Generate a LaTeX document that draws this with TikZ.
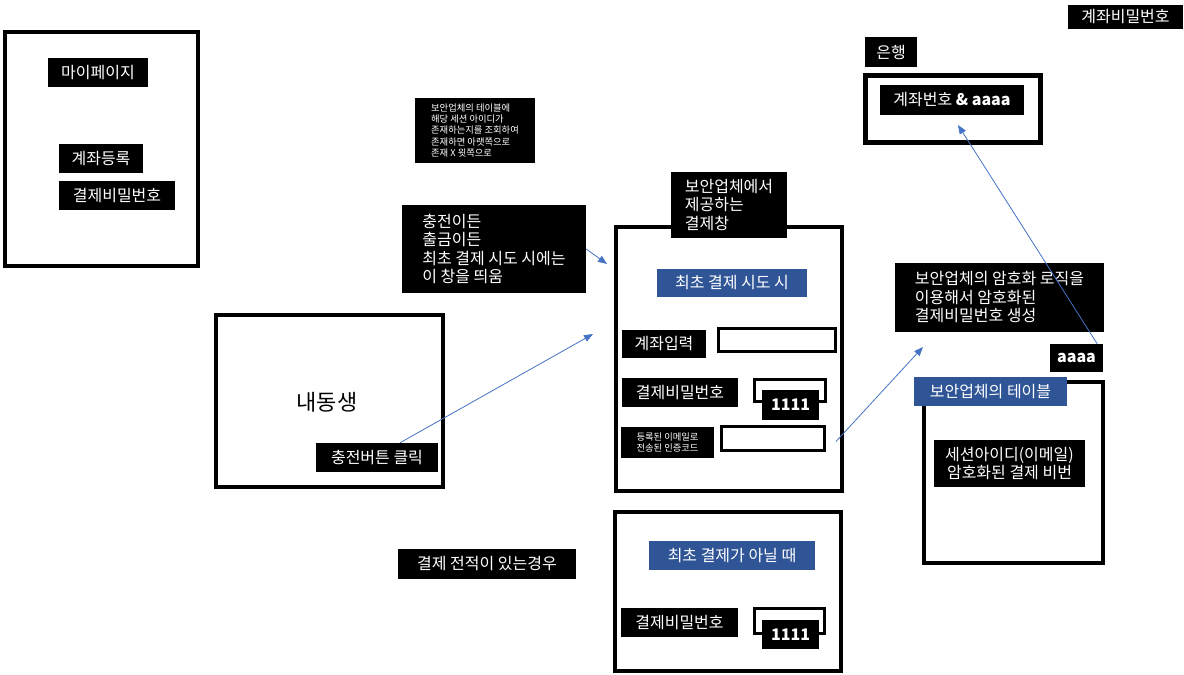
\documentclass[tikz,border=0pt]{standalone}
\usepackage{fontspec}
\setmainfont{Noto Sans CJK KR}
\usetikzlibrary{arrows.meta,positioning}
\definecolor{linkblue}{RGB}{68,114,196}
\definecolor{tagblue}{RGB}{47,85,151}
\tikzset{
  tag/.style={fill=black, text=white, font=\fontsize{16}{18.5}\selectfont,
    inner xsep=0pt, inner ysep=0pt, minimum height=29pt, align=left},
  boldtag/.style={tag, font=\fontsize{16}{18.5}\selectfont\bfseries},
  bluetag/.style={tag, fill=tagblue},
  smalltag/.style={tag, font=\fontsize{9.3}{11.4}\selectfont},
  frame/.style={draw=black, line width=4pt, inner sep=0pt},
  field/.style={draw=black, fill=white, line width=3pt, inner sep=0pt},
  link/.style={draw=linkblue, line width=0.8pt, -{Triangle[length=9pt,width=7pt]}}
}
\begin{document}
\begin{tikzpicture}[x=1pt, y=-1pt]
    \useasboundingbox (0,0) rectangle (1184,675);

    % Frames
    \node[frame, minimum width=193, minimum height=234] (mypageframe) at (101.5,149) {};
    \node[frame, minimum width=227, minimum height=172] (sibframe) at (329.5,401) {};
    \node[frame, minimum width=226, minimum height=264] (payframe) at (729,359) {};
    \node[frame, minimum width=226, minimum height=159] (againframe) at (728,591.5) {};
    \node[frame, line width=5pt, minimum width=175, minimum height=67] (bankframe) at (953,109) {};
    \node[frame, minimum width=179, minimum height=181] (tableframe) at (1013.5,472.5) {};

    % My page
    \node[tag, minimum width=100] (mypage) at (98,72.5) {마이페이지};
    \node[tag, minimum width=84] (regacct) at (101,158.5) {계좌등록};
    \node[tag, minimum width=116] (mypw) at (117,195.5) {결제비밀번호};

    % Notes in the middle
    \node[smalltag, minimum width=120, minimum height=65] (tablenote) at (475,130.5)
        {보안업체의 테이블에\\해당 세션 아이디가\\존재하는지를 조회하여\\존재하면 아랫쪽으로\\존재 X 윗쪽으로};
    \node[tag, minimum width=184, minimum height=88] (chargenote) at (494,249)
        {충전이든\\출금이든\\최초 결제 시도 시에는\\이 창을 띄움};
    \node[tag, minimum width=178, minimum height=30] (history) at (487,564) {결제 전적이 있는경우};

    % Sibling
    \node[font=\fontsize{22}{26}\selectfont] (sibname) at (327,402) {내동생};
    \node[tag, minimum width=122] (clickbtn) at (377,457.5) {충전버튼 클릭};

    % Payment window, first try
    \node[tag, minimum width=116, minimum height=66] (paytitle) at (729,205)
        {보안업체에서\\제공하는\\결제창};
    \node[bluetag, minimum width=150, minimum height=28] (firsttry) at (732,283) {최초 결제 시도 시};
    \node[tag, minimum width=84, minimum height=28] (acctin) at (664,344) {계좌입력};
    \node[field, minimum width=117, minimum height=23] (acctfield) at (777,340) {};
    \node[tag, minimum width=116] (pwlabel1) at (680,392.5) {결제비밀번호};
    \node[field, minimum width=71, minimum height=22] (pwfield1) at (790,390.5) {};
    \node[boldtag, minimum width=57, minimum height=30] (pwval1) at (790.5,405) {1111};
    \node[smalltag, minimum width=93, minimum height=31] (codelabel) at (667.5,442.5)
        {등록된 이메일로\\전송된 인증코드};
    \node[field, minimum width=103, minimum height=24] (codefield) at (773,438.5) {};

    % Payment window, not the first time
    \node[bluetag, minimum width=166] (notfirst) at (732,555.5) {최초 결제가 아닐 때};
    \node[tag, minimum width=117] (pwlabel2) at (679.5,622.5) {결제비밀번호};
    \node[field, minimum width=70, minimum height=25] (pwfield2) at (789.5,621) {};
    \node[boldtag, minimum width=57] (pwval2) at (790.5,634.5) {1111};

    % Bank
    \node[tag, minimum width=52, minimum height=30] (bank) at (891,52) {은행};
    \node[tag, minimum width=144, minimum height=30] (bankacct) at (952,100) {계좌번호 \textbf{\& aaaa}};
    \node[tag, minimum width=115, minimum height=24] (acctpw) at (1125.5,17) {계좌비밀번호};

    % Encryption and table
    \node[tag, minimum width=209, minimum height=69] (encnote) at (999.5,297.5)
        {보안업체의 암호화 로직을\\이용해서 암호화된\\결제비밀번호 생성};
    \node[boldtag, minimum width=53, minimum height=28] (aaaa) at (1076.5,358) {aaaa};
    \node[bluetag, minimum width=153] (tabletitle) at (990.5,391.5) {보안업체의 테이블};
    \node[tag, align=center, minimum width=151, minimum height=47] (tablerow) at (1009.5,463.5)
        {세션아이디(이메일)\\암호화된 결제 비번};

    % Connectors
    \coordinate (payin) at (593,334);
    \coordinate (paycorner) at (607,264);
    \coordinate (encin) at (923,347);
    \coordinate (bankin) at (958,125);
    \draw[link] ([xshift=23pt]clickbtn.north) -- (payin);
    \draw[link] (chargenote.east) -- (paycorner);
    \draw[link] ([xshift=10pt,yshift=-3pt]codefield.east) -- (encin);
    \draw[link] ([xshift=-6pt]aaaa.north east) -- (bankin);
\end{tikzpicture}
\end{document}
